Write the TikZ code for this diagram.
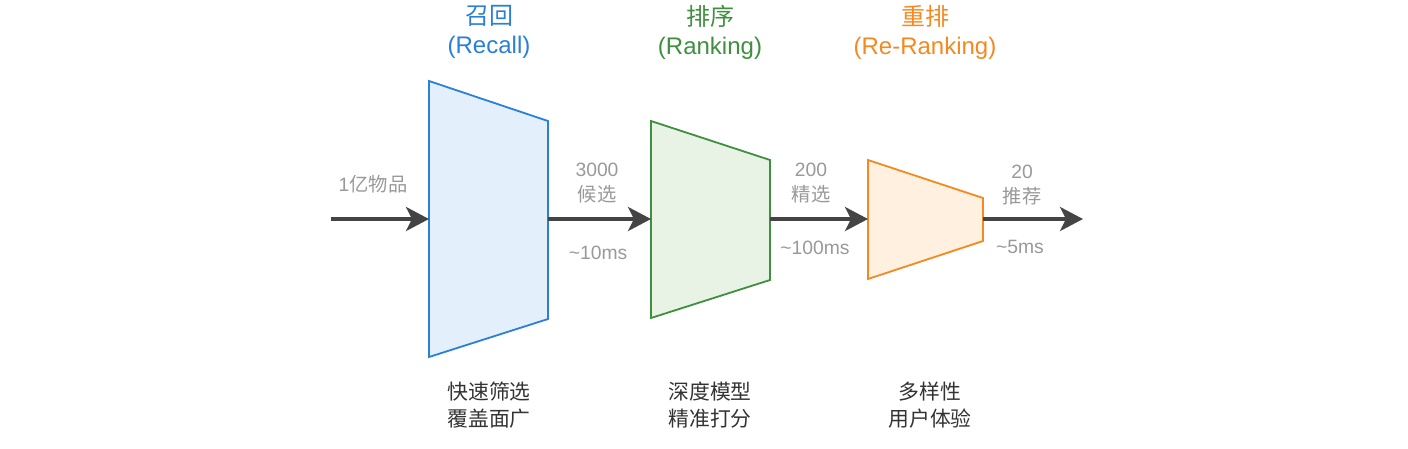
\documentclass[tikz,border=0pt]{standalone}
\usepackage{fontspec}
\setmainfont{Liberation Sans}
\newfontfamily\cjk{Noto Sans CJK SC}
\usetikzlibrary{arrows.meta}
\definecolor{cblue}{HTML}{2A7FD6}
\definecolor{fblue}{HTML}{E3F0FB}
\definecolor{cgreen}{HTML}{3E8F3E}
\definecolor{fgreen}{HTML}{E8F3E6}
\definecolor{corange}{HTML}{F5891F}
\definecolor{forange}{HTML}{FFF0DF}
\definecolor{cgray}{HTML}{999999}
\definecolor{carrow}{HTML}{444444}
\definecolor{cdesc}{HTML}{333333}
\begin{document}
\begin{tikzpicture}[x=1pt,y=-1pt,
  flow/.style={line width=3.5pt,draw=carrow,-{Stealth[length=23pt,width=24pt,inset=6pt]}},
  stage/.style={line width=1.8pt,line join=miter},
  title/.style={font=\fontsize{24}{29}\selectfont,align=center,inner sep=0pt},
  glab/.style={text=cgray,font=\fontsize{19.3}{25}\selectfont,align=center,inner sep=0pt},
  desc/.style={text=cdesc,font=\fontsize{20.8}{27}\cjk,align=center,inner sep=0pt}]
\useasboundingbox (0,0) rectangle (1408,448);
% stages
\draw[stage,draw=cblue,fill=fblue] (429,81) -- (548,121) -- (548,319) -- (429,357) -- cycle;
\draw[stage,draw=cgreen,fill=fgreen] (651,121) -- (770,160) -- (770,280) -- (651,318) -- cycle;
\draw[stage,draw=corange,fill=forange] (868,160) -- (983,198) -- (983,241) -- (868,279) -- cycle;
\coordinate (src) at (331,219);
\coordinate (rin) at (429,219);
\coordinate (rout) at (548,219);
\coordinate (kin) at (651,219);
\coordinate (kout) at (770,219);
\coordinate (ein) at (868,219);
\coordinate (eout) at (983,219);
\coordinate (dst) at (1083,219);
\draw[flow] (src) -- (rin);
\draw[flow] (rout) -- (kin);
\draw[flow] (kout) -- (ein);
\draw[flow] (eout) -- (dst);
% titles
\node[title,text=cblue] (t1) at (489,32) {{\cjk 召回}\\(Recall)};
\node[title,text=cgreen] (t2) at (710,32) {{\cjk 排序}\\(Ranking)};
\node[title,text=corange] (t3) at (925,32) {{\cjk 重排}\\(Re-Ranking)};
% gray labels
\node[glab] (l0) at (373,184) {1{\cjk 亿物品}};
\node[glab] (l1) at (597,183) {3000\\{\cjk 候选}};
\node[glab] (l1t) at (598,253) {\textasciitilde10ms};
\node[glab] (l2) at (811,183) {200\\{\cjk 精选}};
\node[glab] (l2t) at (815,248) {\textasciitilde100ms};
\node[glab] (l3) at (1022,185) {20\\{\cjk 推荐}};
\node[glab] (l3t) at (1020,247) {\textasciitilde5ms};
% descriptions
\node[desc] (d1) at (489,405) {快速筛选\\覆盖面广};
\node[desc] (d2) at (710,405) {深度模型\\精准打分};
\node[desc] (d3) at (930,405) {多样性\\用户体验};
\end{tikzpicture}
\end{document}
